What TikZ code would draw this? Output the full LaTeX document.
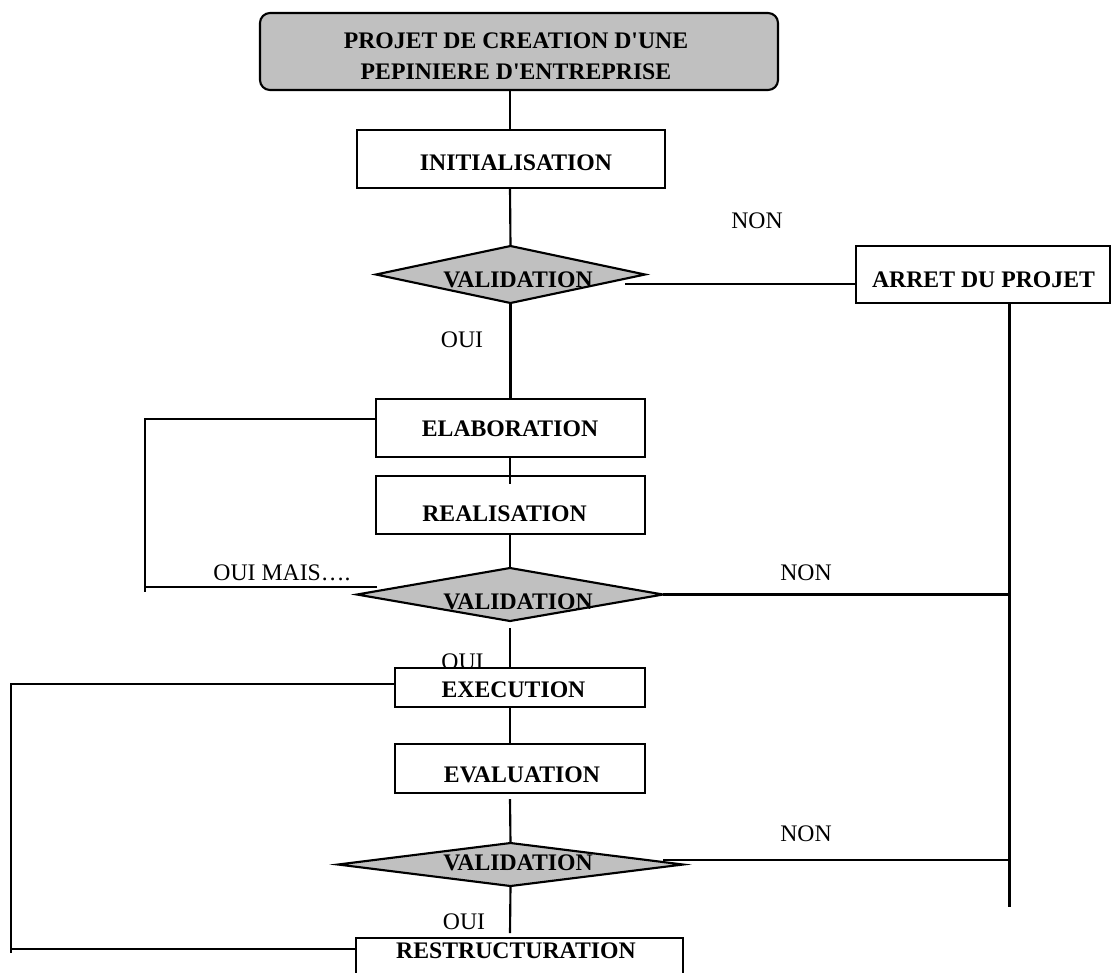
\documentclass[tikz,border=0pt]{standalone}
\usepackage{fontspec}
\newfontfamily\lib{Liberation Serif}
\usetikzlibrary{shapes.geometric}
\definecolor{boxgray}{RGB}{192,192,192}
\begin{document}
\begin{tikzpicture}[x=0.75pt,y=-0.75pt,
  line width=1.6pt,
  box/.style={draw, rectangle, inner sep=0pt, outer sep=0pt, fill=white},
  dia/.style={draw, diamond, fill=boxgray, inner sep=0pt, outer sep=0pt},
  bt/.style={font=\lib\fontsize{17.8}{23}\selectfont\bfseries, inner sep=0pt},
  lt/.style={font=\lib\fontsize{17.8}{23}\selectfont, inner sep=0pt}]
\path[use as bounding box, clip] (0,0) rectangle (1116,972);
\fill[white] (0,0) rectangle (1116,972);

% nodes
\node[box, rounded corners=7.5pt, fill=boxgray, minimum width=388.5pt, minimum height=57.75pt] (top) at (519,51.5) {};
\node[bt, align=center] (topT) at (516,56.5) {PROJET DE CREATION D'UNE\\PEPINIERE D'ENTREPRISE};

\node[box, minimum width=231pt, minimum height=43.5pt] (init) at (511,159) {};
\node[bt] (initT) at (516,163) {INITIALISATION};

\node[dia, minimum width=201.75pt, minimum height=42.75pt] (v1) at (510.5,274.5) {};
\node[bt] (v1T) at (518,280) {VALIDATION};

\node[box, minimum width=190.5pt, minimum height=42.75pt] (arret) at (983,274.5) {};
\node[bt] (arretT) at (983.5,280) {ARRET DU PROJET};

\node[lt] (non1) at (757,221) {NON};
\node[lt] (oui1) at (462,340) {OUI};

\node[box, minimum width=201.75pt, minimum height=43.5pt] (elab) at (510.5,428) {};
\node[bt] (elabT) at (510,429) {ELABORATION};

\node[box, minimum width=201.75pt, minimum height=43.5pt] (real) at (510.5,505) {};
\node[bt] (realT) at (504.5,513.5) {REALISATION};

\node[dia, minimum width=229.5pt, minimum height=39.75pt] (v2) at (510,594.5) {};
\node[bt] (v2T) at (518,602) {VALIDATION};

\node[lt] (ouimais) at (282,573) {OUI MAIS….};
\node[lt] (non2) at (806,573) {NON};
\node[lt] (oui2) at (462.5,662) {OUI};

\node[box, minimum width=187.5pt, minimum height=29.25pt] (exec) at (520,687.5) {};
\node[bt] (execT) at (513.5,690) {EXECUTION};

\node[box, minimum width=187.5pt, minimum height=36.75pt] (eval) at (520,768.5) {};
\node[bt] (evalT) at (522,774.5) {EVALUATION};

\node[dia, minimum width=258.75pt, minimum height=32.25pt] (v3) at (510.5,864.5) {};
\node[bt] (v3T) at (518,863) {VALIDATION};

\node[lt] (non3) at (806,834) {NON};
\node[lt] (oui3) at (464,922) {OUI};

\node[box, minimum width=245.25pt, minimum height=45pt] (restr) at (519.5,968) {};
\node[bt] (restrT) at (516,950.5) {RESTRUCTURATION};

% helper coordinates
\coordinate (tx) at (510,0);
\coordinate (v1r) at (625,284);
\coordinate (rb) at (1009.5,907);
\coordinate (ein) at (510,484);
\coordinate (la) at (145,419);
\coordinate (lb) at (145,592);
\coordinate (lc) at (377,587);
\coordinate (v2b) at (510,628);
\coordinate (ea) at (11,684);
\coordinate (eb) at (11,953);
\coordinate (ec) at (11,949);
\coordinate (v3a) at (510,799);
\coordinate (v3r) at (663,860);
\coordinate (v3b) at (510,933);

% connectors
\draw (tx |- top.south) -- (tx |- init.north);
\draw (tx |- init.south) -- (v1.north);
\draw (v1.south) -- (v1.south |- elab.north);
\draw (v1r) -- (v1r -| arret.west);
\draw (rb |- arret.south) -- (rb);
\draw (tx |- elab.south) -- (ein);
\draw (tx |- real.south) -- (v2.north);
\draw (elab.west |- la) -- (la) -- (lb);
\draw (lc) -- (lc -| la);
\draw (v2.east) -- (v2.east -| rb);
\draw (v2b) -- (tx |- exec.north);
\draw (exec.west |- ea) -- (ea) -- (eb);
\draw (ec) -- (ec -| restr.west);
\draw (tx |- exec.south) -- (tx |- eval.north);
\draw (v3a) -- (v3.north);
\draw (v3r) -- (v3r -| rb);
\draw (v3.south) -- (v3b);
\end{tikzpicture}
\end{document}
